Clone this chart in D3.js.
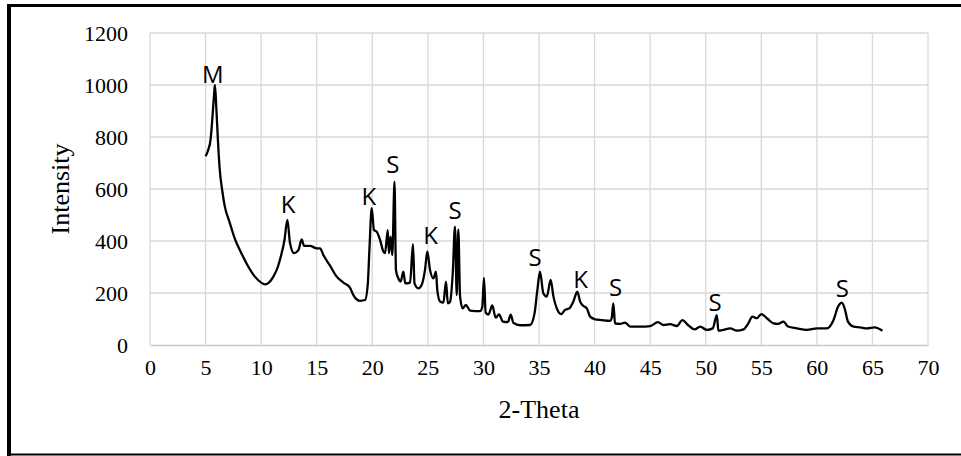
<!DOCTYPE html>
<html><head><meta charset="utf-8">
<script src="https://cdn.jsdelivr.net/npm/d3@7"></script>
<style>html,body{margin:0;padding:0;background:#fff;}svg{display:block;}</style>
</head><body>
<svg id="chart" width="961" height="456"></svg>
<script>
const theta = [5.0,5.22,5.46,5.61,5.76,5.84,5.97,6.12,6.27,6.48,6.72,7.17,7.62,8.2,8.8,9.4,10.0,10.35,10.7,11.1,11.5,11.8,12.1,12.36,12.6,12.96,13.35,13.65,13.86,14.4,15.0,15.3,15.6,16.2,16.8,17.4,18.0,18.3,18.9,19.35,19.6,19.74,19.95,20.15,20.4,20.7,21.0,21.15,21.39,21.5,21.65,21.8,22.0,22.13,22.35,22.55,22.8,22.97,23.4,23.66,23.8,24.14,24.44,24.74,24.95,25.2,25.5,25.73,25.85,26.1,26.4,26.63,26.8,27.0,27.24,27.44,27.6,27.74,27.9,28.13,28.43,28.8,29.7,29.9,30.05,30.2,30.45,30.8,31.1,31.4,31.75,32.2,32.45,32.7,33.3,34.2,34.6,34.85,35.09,35.39,35.7,36.05,36.3,36.6,37.0,37.34,37.73,38.09,38.45,38.7,39.0,39.3,39.6,40.04,40.64,41.4,41.54,41.69,41.84,42.3,42.74,43.2,44.1,45.0,45.7,46.2,46.8,47.4,47.9,48.4,49.0,49.5,50.1,50.63,51.0,51.14,51.6,52.2,52.8,53.4,53.83,54.2,54.6,55.0,55.5,56.1,56.5,57.0,57.4,58.2,59.1,60.0,60.9,61.5,61.9,62.24,62.5,62.8,63.3,63.9,64.5,65.2,65.9];
const intensity = [726,748,794,871,961,1000,910,781,677,600,535,471,410,355,305,265,240,233,240,263,300,345,404,481,391,353,365,406,381,381,372,372,346,305,263,240,220,192,170,173,237,365,526,442,436,404,359,353,442,353,417,346,628,288,256,244,282,237,240,388,237,218,231,288,359,288,256,282,211,167,163,244,160,167,276,455,192,445,186,141,154,132,130,147,258,125,117,152,105,118,90,88,117,85,76,77,122,211,282,199,186,250,186,141,119,135,141,167,205,167,150,141,109,99,96,93,103,160,83,81,86,71,71,73,88,77,80,73,96,77,60,71,58,64,115,55,58,64,55,60,83,109,103,119,103,83,81,90,71,64,58,64,64,96,147,163,141,90,71,68,64,68,55];

const peakLabels = ["M","K","K","S","K","S","S","K","S","S","S"];
const peakX = [5.65,12.42,19.7,21.85,25.25,27.46,34.64,38.75,41.9,50.84,62.3];
const peakY = [1009,509,538,660,387,483,304,218,190,131,186];

const xTicks = [0,5,10,15,20,25,30,35,40,45,50,55,60,65,70];
const yTicks = [0,200,400,600,800,1000,1200];
const xTitle = "2-Theta";
const yTitle = "Intensity";

const svg = d3.select("#chart");
const x = d3.scaleLinear().domain([0,70]).range([150,928]);
const y = d3.scaleLinear().domain([0,1200]).range([345,33]);

// outer frame
svg.append("line").attr("x1",9).attr("x2",9).attr("y1",4).attr("y2",456).attr("stroke","#000").attr("stroke-width",4);
svg.append("line").attr("x1",7).attr("x2",961).attr("y1",5.5).attr("y2",5.5).attr("stroke","#000").attr("stroke-width",3);
svg.append("line").attr("x1",7).attr("x2",961).attr("y1",454.5).attr("y2",454.5).attr("stroke","#000").attr("stroke-width",2);

// gridlines
const grid = svg.append("g");
grid.selectAll(".hg").data(yTicks.filter(d=>d>0)).join("line")
  .attr("x1",x(0)).attr("x2",x(70)).attr("y1",d=>y(d)).attr("y2",d=>y(d))
  .attr("stroke","#d9d9d9").attr("stroke-width",1.3);
grid.selectAll(".vg").data(xTicks).join("line")
  .attr("x1",d=>x(d)).attr("x2",d=>x(d)).attr("y1",y(1200)).attr("y2",y(0))
  .attr("stroke","#d9d9d9").attr("stroke-width",1.3);

// axes
const xAxis = d3.axisBottom(x).tickValues(xTicks).tickSize(0).tickPadding(14).tickFormat(d3.format("d"));
const gx = svg.append("g").attr("transform",`translate(0,${y(0)})`).call(xAxis);
gx.select(".domain").attr("stroke","#c8c8c8").attr("stroke-width",1.5);
gx.selectAll("text").attr("font-family","'Liberation Serif','Times New Roman',serif").attr("font-size",22).attr("fill","#000");

const yAxis = d3.axisLeft(y).tickValues(yTicks).tickSize(0).tickPadding(22).tickFormat(d3.format("d"));
const gy = svg.append("g").attr("transform",`translate(${x(0)},0)`).call(yAxis);
gy.select(".domain").remove();
gy.selectAll("text").attr("font-family","'Liberation Serif','Times New Roman',serif").attr("font-size",22).attr("fill","#000");

svg.append("text").attr("x",539).attr("y",418).attr("text-anchor","middle")
  .attr("font-family","'Liberation Serif','Times New Roman',serif").attr("font-size",26).text(xTitle);
svg.append("text").attr("transform",`translate(69,189) rotate(-90)`).attr("text-anchor","middle")
  .attr("font-family","'Liberation Serif','Times New Roman',serif").attr("font-size",26).text(yTitle);

// data line
const pts = theta.map((t,i)=>[t,intensity[i]]);
svg.append("path").datum(pts)
  .attr("d", d3.line().curve(d3.curveMonotoneX).x(d=>x(d[0])).y(d=>y(d[1])))
  .attr("fill","none").attr("stroke","#000").attr("stroke-width",2.3).attr("stroke-linejoin","round");

// peak labels
svg.selectAll(".pk").data(peakLabels).join("text")
  .attr("x",(d,i)=>x(peakX[i])).attr("y",(d,i)=>y(peakY[i]))
  .attr("text-anchor","middle").attr("font-family","'Open Sans','Noto Sans',sans-serif")
  .attr("font-size",24).attr("fill","#000").text(d=>d);
</script>
</body></html>
